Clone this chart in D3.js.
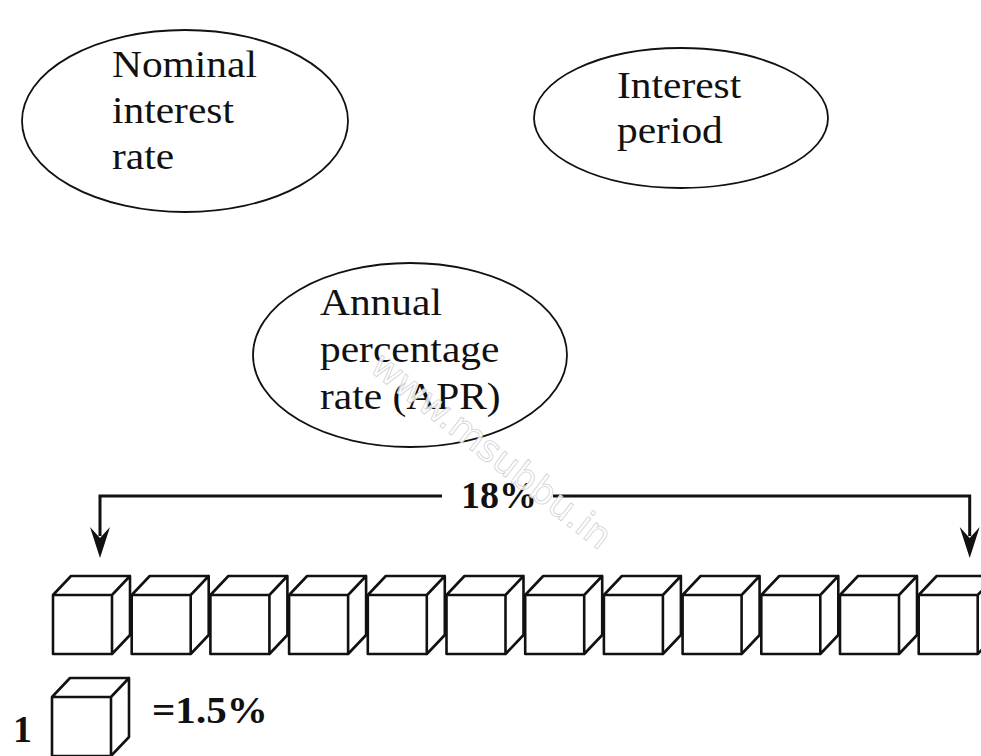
<!DOCTYPE html>
<html>
<head>
<meta charset="utf-8">
<script src="https://cdn.jsdelivr.net/npm/d3@7"></script>
<style>
  body { margin: 0; background: #fff; }
  svg { display: block; }
</style>
</head>
<body>
<div class="graph"></div>
<script>
// concepts shown as bubbles
const bubbleLabels = [
  ['Nominal', 'interest', 'rate'],
  ['Interest', 'period'],
  ['Annual', 'percentage', 'rate (APR)']
];
// twelve interest periods, each worth 1.5%
const periodNames = ['Jan', 'Feb', 'Mar', 'Apr', 'May', 'Jun', 'Jul', 'Aug', 'Sep', 'Oct', 'Nov', 'Dec'];
const periodRates = [1.5, 1.5, 1.5, 1.5, 1.5, 1.5, 1.5, 1.5, 1.5, 1.5, 1.5, 1.5];
const aprLabel = '18%';
const unitLabel = '=1.5%';
const unitCount = '1';

function draw() {
  const w = 981;
  const h = 756;
  const serif = '"Liberation Serif", "DejaVu Serif", serif';

  const svg = d3.select('.graph')
    .append('svg')
    .attr('width', w)
    .attr('height', h);

  // bubbles
  const bubbles = [
    { cx: 185, cy: 121, rx: 163, ry: 91, tx: 112, ty: 77, gap: 46 },
    { cx: 681, cy: 118, rx: 147, ry: 70, tx: 617, ty: 98, gap: 45 },
    { cx: 410, cy: 355, rx: 157, ry: 92, tx: 320, ty: 315, gap: 47 }
  ];
  const bubble = svg.selectAll('g.bubble')
    .data(bubbles)
    .enter()
    .append('g')
    .attr('class', 'bubble');

  bubble.append('ellipse')
    .attr('cx', (d) => d.cx)
    .attr('cy', (d) => d.cy)
    .attr('rx', (d) => d.rx)
    .attr('ry', (d) => d.ry)
    .attr('fill', 'none')
    .attr('stroke', '#111')
    .attr('stroke-width', 1.8);

  bubble.each(function (d, i) {
    d3.select(this).selectAll('text')
      .data(bubbleLabels[i])
      .enter()
      .append('text')
      .attr('transform', (t, j) => `translate(${d.tx},${d.ty + j * d.gap}) scale(1.12,1)`)
      .attr('font-family', serif)
      .attr('font-size', 37)
      .attr('fill', '#111')
      .text((t) => t);
  });

  // cube positions
  const xScale = d3.scaleBand()
    .domain(periodNames)
    .range([53, 53 + 12 * 78.7])
    .paddingInner(0);

  const cw = 59;
  const ch = 59;
  const dx = 18;
  const dy = 19;
  const top = 595;

  function cube(g, x, y) {
    g.append('rect')
      .attr('x', x).attr('y', y)
      .attr('width', cw).attr('height', ch)
      .attr('fill', '#fff');
    g.append('path')
      .attr('d', `M${x},${y}L${x + dx},${y - dy}L${x + cw + dx},${y - dy}L${x + cw},${y}Z`
        + `M${x + cw},${y}L${x + cw + dx},${y - dy}L${x + cw + dx},${y + ch - dy}L${x + cw},${y + ch}Z`
        + `M${x},${y}H${x + cw}V${y + ch}H${x}Z`)
      .attr('fill', 'none')
      .attr('stroke', '#111')
      .attr('stroke-width', 2.6)
      .attr('stroke-linejoin', 'round');
  }

  const cubes = svg.append('g').attr('class', 'cubes');
  periodRates.forEach((r, i) => {
    cube(cubes.append('g').datum(r), xScale(periodNames[i]), top);
  });

  // bracket with arrows
  const x0 = xScale(periodNames[0]) + 47;
  const x1 = xScale(periodNames[periodNames.length - 1]) + 51;
  const yLine = 496;
  const bracket = svg.append('g').attr('class', 'bracket');
  bracket.append('path')
    .attr('d', `M${x0},536V${yLine}H442M553,${yLine}H${x1}V536`)
    .attr('fill', 'none')
    .attr('stroke', '#111')
    .attr('stroke-width', 3);
  [x0, x1].forEach((x) => {
    bracket.append('path')
      .attr('d', `M${x - 10},527L${x},538L${x + 10},527L${x},558Z`)
      .attr('fill', '#111');
  });
  bracket.append('text')
    .attr('x', 499)
    .attr('y', 508)
    .attr('text-anchor', 'middle')
    .attr('font-family', serif)
    .attr('font-weight', 'bold')
    .attr('font-size', 38)
    .attr('fill', '#111')
    .text(aprLabel);

  // legend
  const legend = svg.append('g').attr('class', 'legend');
  legend.append('text')
    .attr('x', 13)
    .attr('y', 742)
    .attr('font-family', serif)
    .attr('font-weight', 'bold')
    .attr('font-size', 38)
    .attr('fill', '#111')
    .text(unitCount);
  cube(legend, 52, 697);
  legend.append('text')
    .attr('transform', 'translate(152,723) scale(1.08,1)')
    .attr('font-family', serif)
    .attr('font-weight', 'bold')
    .attr('font-size', 38)
    .attr('fill', '#111')
    .text(unitLabel);

  // watermark
  svg.append('text')
    .attr('transform', 'translate(368,370) rotate(38)')
    .attr('font-family', '"DejaVu Sans", sans-serif')
    .attr('font-size', 37)
    .attr('fill', '#fff')
    .attr('fill-opacity', 0.85)
    .attr('stroke', '#d2d2d2')
    .attr('stroke-width', 0.8)
    .text('www.msubbu.in');
}

draw();
</script>
</body>
</html>
